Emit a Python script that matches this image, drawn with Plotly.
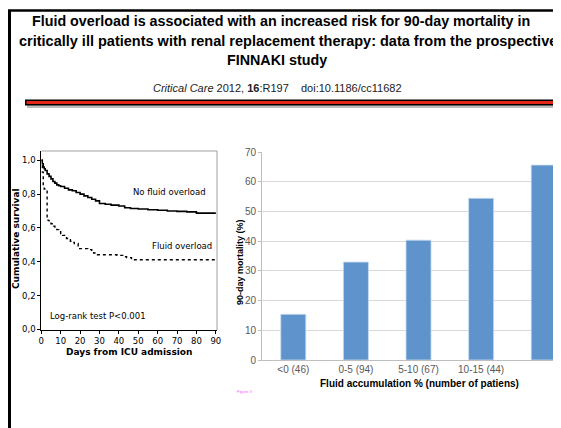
import plotly.graph_objects as go

# page body margin in the browser is ~8px, so the figure is 8px smaller and everything shifted
OFF = 8
W, H = 561 - OFF, 428 - OFF

# ---- Data ----
km_days_no_fo = [0, 0.5, 1, 1.5, 2, 3, 4, 5, 6, 7, 8, 9, 10, 12, 14, 16, 18, 20, 22, 24, 26, 28, 30, 33, 36, 40, 43, 46, 50, 55, 60, 65, 70, 75, 80, 90]
km_surv_no_fo = [1.0, 0.98, 0.96, 0.95, 0.94, 0.92, 0.905, 0.89, 0.875, 0.865, 0.855, 0.85, 0.845, 0.835, 0.825, 0.82, 0.81, 0.80, 0.79, 0.78, 0.77, 0.76, 0.745, 0.74, 0.735, 0.73, 0.72, 0.715, 0.712, 0.708, 0.705, 0.70, 0.698, 0.695, 0.688, 0.688]

km_days_fo = [0, 0.5, 1, 1.5, 3, 3.5, 4, 5, 6, 7, 8, 9, 10, 11, 12, 13, 14, 15, 16, 17, 19, 24, 26, 27, 29, 39, 42, 44, 46.5, 90]
km_surv_fo = [1.0, 0.93, 0.85, 0.83, 0.66, 0.645, 0.635, 0.625, 0.61, 0.60, 0.59, 0.578, 0.565, 0.556, 0.548, 0.538, 0.53, 0.522, 0.515, 0.508, 0.478, 0.472, 0.46, 0.452, 0.442, 0.438, 0.43, 0.425, 0.412, 0.412]

km_xticks = [0, 10, 20, 30, 40, 50, 60, 70, 80, 90]
km_yticks = [0.0, 0.2, 0.4, 0.6, 0.8, 1.0]
km_yticklabels = ["0,0", "0,2", "0,4", "0,6", "0,8", "1,0"]

bar_categories = ["<0 (46)", "0-5 (94)", "5-10 (67)", "10-15 (44)", ">15 (32)"]
bar_mortality = [15.4, 33.0, 40.4, 54.5, 65.7]


def px(x):
    return (x - OFF) / W


def py(y):
    return 1 - (y - OFF) / H


fig = go.Figure()

# KM curves
fig.add_trace(go.Scatter(x=km_days_no_fo, y=km_surv_no_fo, mode="lines", line_shape="hv",
                         line=dict(color="black", width=1.6), xaxis="x", yaxis="y", showlegend=False))
fig.add_trace(go.Scatter(x=km_days_fo, y=km_surv_fo, mode="lines", line_shape="hv",
                         line=dict(color="black", width=1.4, dash="dot"), xaxis="x", yaxis="y", showlegend=False))

# Bars
fig.add_trace(go.Bar(x=list(range(len(bar_categories))), y=bar_mortality,
                     marker=dict(color="#5f93cc", line=dict(color="#c9dcf0", width=0.8)),
                     width=0.4, xaxis="x2", yaxis="y2", showlegend=False))

km_font = dict(family="DejaVu Sans", size=8.5, color="black")
bar_font = dict(family="Liberation Sans, Arial", size=10, color="#595959")

fig.update_layout(
    width=W, height=H,
    margin=dict(l=0, r=0, t=0, b=0),
    paper_bgcolor="white", plot_bgcolor="white",
    xaxis=dict(domain=[px(41.3), px(217)], range=[0, 90.6], tickvals=km_xticks,
               showline=True, linecolor="black", linewidth=1, ticks="outside", ticklen=3,
               tickcolor="black", tickfont=km_font, showgrid=False, zeroline=False, automargin=False,
               anchor="y"),
    yaxis=dict(domain=[py(330), py(151)], range=[-0.003, 1.055], tickvals=km_yticks, ticktext=km_yticklabels,
               showline=True, linecolor="black", linewidth=1, ticks="outside", ticklen=3,
               tickcolor="black", tickfont=km_font, showgrid=False, zeroline=False, automargin=False,
               anchor="x"),
    xaxis2=dict(domain=[px(262), 1.0], range=[-0.5, 4.276], tickvals=list(range(len(bar_categories))),
                ticktext=bar_categories, showline=True, linecolor="#bfbfbf", linewidth=1, ticks="",
                tickfont=bar_font, showgrid=False, zeroline=False, automargin=False, anchor="y2"),
    yaxis2=dict(domain=[py(360), py(152.3)], range=[0, 70], dtick=10, showline=True, linecolor="#bfbfbf",
                linewidth=1, ticks="outside", ticklen=3, tickcolor="#bfbfbf", tickfont=bar_font,
                showgrid=True, gridcolor="#d9d9d9", gridwidth=1, zeroline=False, automargin=False,
                anchor="x2"),
    bargap=0.6,
)

shapes = []
# page frame
shapes.append(dict(type="line", xref="paper", yref="paper", x0=px(8), x1=1.0, y0=py(10.5), y1=py(10.5),
                   line=dict(color="black", width=2.5)))
shapes.append(dict(type="line", xref="paper", yref="paper", x0=px(9.5), x1=px(9.5), y0=py(10), y1=0,
                   line=dict(color="black", width=3)))
# red bar with shadow
shapes.append(dict(type="rect", xref="paper", yref="paper", x0=px(27), x1=px(559), y0=py(108), y1=py(101),
                   line=dict(width=0), fillcolor="#bdbdbd"))
shapes.append(dict(type="rect", xref="paper", yref="paper", x0=px(25), x1=px(557), y0=py(105.5), y1=py(99.5),
                   line=dict(width=0), fillcolor="black"))
shapes.append(dict(type="rect", xref="paper", yref="paper", x0=px(26.5), x1=px(555.5), y0=py(104), y1=py(101),
                   line=dict(width=0), fillcolor="#e5261b"))
# KM gray box (top & right)
shapes.append(dict(type="line", xref="paper", yref="paper", x0=px(41.3), x1=px(217), y0=py(151), y1=py(151),
                   line=dict(color="#a0a0a0", width=1)))
shapes.append(dict(type="line", xref="paper", yref="paper", x0=px(217), x1=px(217), y0=py(151), y1=py(330),
                   line=dict(color="#a0a0a0", width=1)))
fig.update_layout(shapes=shapes)

title_font = dict(family="Liberation Sans, Arial", size=14.3, color="black")
anns = [
    dict(text="<b>Fluid overload is associated with an increased risk for 90-day mortality in</b>",
         x=px(280.5), y=py(21), xanchor="center", yanchor="middle", font=title_font),
    dict(text="<b>critically ill patients with renal replacement therapy: data from the prospective</b>",
         x=px(17), y=py(41), xanchor="left", yanchor="middle",
         font=dict(family="Liberation Sans, Arial", size=14.5, color="black")),
    dict(text="<b>FINNAKI study</b>", x=px(277), y=py(60), xanchor="center", yanchor="middle", font=title_font),
    dict(text="<i>Critical Care</i> 2012, <b>16</b>:R197    doi:10.1186/cc11682",
         x=px(277), y=py(88), xanchor="center", yanchor="middle",
         font=dict(family="Liberation Sans, Arial", size=11, color="#222222")),
    # KM texts
    dict(text="No fluid overload", x=px(169), y=py(192), xanchor="center", yanchor="middle",
         font=dict(family="DejaVu Sans", size=8.5, color="black")),
    dict(text="Fluid overload", x=px(182), y=py(246), xanchor="center", yanchor="middle",
         font=dict(family="DejaVu Sans", size=8.5, color="black")),
    dict(text="Log-rank test P<0.001", x=px(48), y=py(316), xanchor="left", yanchor="middle",
         font=dict(family="DejaVu Sans", size=8.5, color="black")),
    dict(text="<b>Days from ICU admission</b>", x=px(129), y=py(352), xanchor="center", yanchor="middle",
         font=dict(family="DejaVu Sans", size=9, color="black")),
    dict(text="<b>Cumulative survival</b>", x=px(16), y=py(239), xanchor="center", yanchor="middle",
         textangle=-90, font=dict(family="DejaVu Sans", size=9, color="black")),
    # bar texts
    dict(text="<b>Fluid accumulation % (number of patiens)</b>", x=px(419), y=py(383), xanchor="center",
         yanchor="middle", font=dict(family="Liberation Sans, Arial", size=10, color="black")),
    dict(text="<b>90-day mortality (%)</b>", x=px(240), y=py(262), xanchor="center", yanchor="middle",
         textangle=-90, font=dict(family="Liberation Sans, Arial", size=9, color="black")),
    dict(text="Figure 3", x=px(235), y=py(391), xanchor="left", yanchor="middle",
         font=dict(family="Liberation Sans, Arial", size=4, color="#ff55ff")),
]
for a in anns:
    a.update(xref="paper", yref="paper", showarrow=False)
fig.update_layout(annotations=anns)

fig.write_html("out.html")
